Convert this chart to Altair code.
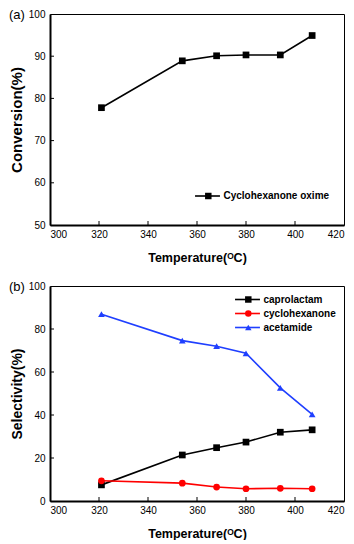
import altair as alt
import pandas as pd

temps = [321, 354, 368, 380, 394, 407]
conversion = [77.8, 88.9, 90.1, 90.3, 90.3, 94.9]
caprolactam = [7.5, 21.4, 24.8, 27.4, 32.0, 33.1]
cyclohexanone = [9.4, 8.3, 6.5, 5.7, 5.9, 5.7]
acetamide = [86.9, 74.6, 72.0, 68.7, 52.6, 40.3]

series_a = ["Cyclohexanone oxime"]
series_b = ["caprolactam", "cyclohexanone", "acetamide"]
colors_b = ["#000000", "#ff0000", "#1f3fff"]
shapes_b = ["square", "circle", "triangle-up"]

x_ticks = [300, 320, 340, 360, 380, 400, 420]
ya_ticks = [50, 60, 70, 80, 90, 100]
yb_ticks = [0, 20, 40, 60, 80, 100]

FONT = "Liberation Sans"
W = 294
LINE_PATH = "M-3,0H3"

df_a = pd.DataFrame({"T": temps, "v": conversion, "s": series_a[0], "s2": series_a[0]})
rows = []
for name, vals in zip(series_b, [caprolactam, cyclohexanone, acetamide]):
    for t, v in zip(temps, vals):
        rows.append({"T": t, "v": v, "s": name, "s2": name})
df_b = pd.DataFrame(rows)

x_title = "Temperature(ᴼC)"


def panel(df, H, ydom, yticks, ytitle, names, colors, shapes, label, lx, ly, ytitle_size):
    xs = alt.Scale(domain=[300, 420], nice=False)
    ys = alt.Scale(domain=ydom, nice=False)
    xax = alt.Axis(values=x_ticks, title=x_title, tickSize=0, labelPadding=4,
                   titlePadding=12, grid=False, titleFontSize=12.5)
    yax = alt.Axis(values=yticks, title=ytitle, tickSize=0, labelPadding=5,
                   titlePadding=4, grid=False, titleFontSize=ytitle_size)
    line_leg = alt.Legend(title=None, orient="none", legendX=lx, legendY=ly,
                          symbolType=LINE_PATH, symbolSize=69, symbolStrokeWidth=1.6,
                          labelOffset=11, rowPadding=4, padding=0,
                          labelFontSize=10, labelFontWeight="bold", labelFont=FONT)
    pt_leg = alt.Legend(title=None, orient="none", legendX=lx + 0.8, legendY=ly,
                        symbolSize=42, rowPadding=4, padding=0, labelOffset=11,
                        labelFontSize=10, labelExpr="''", labelFont=FONT)
    base = alt.Chart(df)
    line = base.mark_line(strokeWidth=1.6).encode(
        x=alt.X("T:Q", scale=xs, axis=xax),
        y=alt.Y("v:Q", scale=ys, axis=yax),
        color=alt.Color("s:N", scale=alt.Scale(domain=names, range=colors), legend=line_leg),
    )
    pts = base.mark_point(filled=True, opacity=1, size=45).encode(
        x=alt.X("T:Q", scale=xs),
        y=alt.Y("v:Q", scale=ys),
        color=alt.Color("s2:N", scale=alt.Scale(domain=names, range=colors), legend=pt_leg),
        shape=alt.Shape("s2:N", scale=alt.Scale(domain=names, range=shapes), legend=pt_leg),
    )
    xt = alt.Chart(pd.DataFrame({"t": x_ticks[1:-1]})).mark_rule(color="black", strokeWidth=1).encode(
        x=alt.X("t:Q", scale=xs), y=alt.value(H), y2=alt.value(H - 4))
    yt = alt.Chart(pd.DataFrame({"t": yticks[1:-1]})).mark_rule(color="black", strokeWidth=1).encode(
        y=alt.Y("t:Q", scale=ys), x=alt.value(0), x2=alt.value(4))
    lab = alt.Chart(pd.DataFrame({"l": [label]})).mark_text(
        align="left", baseline="middle", fontSize=13, font=FONT, color="black").encode(
        text="l:N", x=alt.value(-41), y=alt.value(1))
    return alt.layer(line, pts, xt, yt, lab).resolve_scale(color="independent", shape="independent").properties(
        width=W, height=H)


pa = panel(df_a, 211, [50, 100], ya_ticks, "Conversion(%)", series_a, ["#000000"], ["square"],
           "(a)", 152.5, 177, 15)
pb = panel(df_b, 215, [0, 100], yb_ticks, "Selectivity(%)", series_b, colors_b, shapes_b,
           "(b)", 192.5, 8.5, 14)

chart = alt.vconcat(pa, pb, spacing=16).properties(
    padding={"left": 0, "top": 0, "right": 0, "bottom": 0}
).configure(font=FONT).configure_view(
    stroke="black", strokeWidth=1
).configure_axis(
    domainColor="black", domainWidth=2, labelColor="black", titleColor="black",
    labelFont=FONT, titleFont=FONT, labelFontSize=10, titleFontWeight="bold"
)

chart.save("out.html", embed_options={"renderer": "svg", "actions": False})
